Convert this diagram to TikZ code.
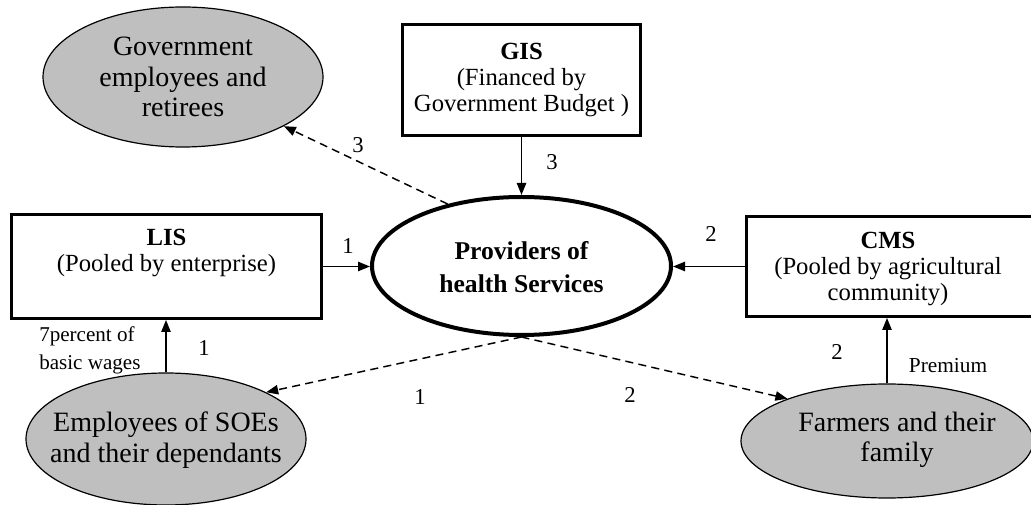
\documentclass[tikz,border=0pt]{standalone}
\usepackage{fontspec}
\setmainfont{Liberation Serif}
\usetikzlibrary{shapes.geometric,arrows.meta}
\begin{document}
\begin{tikzpicture}[x=0.75pt,y=-0.75pt,
  box/.style={draw, line width=2.2pt, inner sep=0pt},
  boxtxt/.style={align=center, inner sep=0pt, font=\fontsize{18.5}{19.8}\selectfont},
  grayell/.style={ellipse, draw, fill=black!25, line width=0.9pt, inner sep=0pt},
  elltxt/.style={align=center, inner sep=0pt, font=\fontsize{21}{22.8}\selectfont},
  provst/.style={ellipse, draw, line width=3pt, inner sep=0pt},
  provtxt/.style={align=center, inner sep=0pt, font=\fontsize{19.2}{24.5}\selectfont\bfseries},
  arr/.style={-{Triangle[length=9pt,width=7pt]}, line width=1.1pt},
  dasharr/.style={arr, dash pattern=on 6pt off 4pt},
  num/.style={inner sep=0pt, font=\fontsize{17}{19}\selectfont},
  small/.style={inner sep=0pt, align=left, font=\fontsize{15.8}{21}\selectfont}]
\clip (0,0) rectangle (1031,505);
% nodes
\node[grayell, minimum width=210pt, minimum height=105pt] (gov) at (183,77) {};
\node[elltxt] (govt) at (183,77) {Government\\employees and\\retirees};
\node[box, minimum width=178.5pt, minimum height=83.25pt] (gis) at (521.5,80) {};
\node[boxtxt] (gist) at (521.5,80) {\textbf{GIS}\\(Financed by\\Government Budget )};
\node[provst, minimum width=224.25pt, minimum height=103.5pt] (prov) at (521.5,266) {};
\node[provtxt] (provt) at (521.5,267) {Providers of\\health Services};
\node[box, minimum width=232.5pt, minimum height=78pt] (lis) at (166.5,266.5) {};
\node[boxtxt] (list) at (166.5,253) {\textbf{LIS}\\(Pooled by enterprise)};
\node[box, minimum width=219pt, minimum height=75pt] (cms) at (892.5,266.5) {};
\node[boxtxt] (cmst) at (888,269) {\textbf{CMS}\\(Pooled by agricultural\\community)};
\node[grayell, minimum width=210pt, minimum height=99pt] (soe) at (166,439) {};
\node[elltxt] (soet) at (166,440) {Employees of SOEs\\and their dependants};
\node[grayell, minimum width=219pt, minimum height=85.5pt] (farm) at (887,441) {};
\node[elltxt] (farmt) at (897,440) {Farmers and their\\family};
% connectors
\draw[arr] (gis.south) -- (prov.north);
\draw[arr] (lis.east) -- (lis.east -| prov.west);
\draw[arr] (cms.west) -- (cms.west -| prov.east);
\draw[arr] (soe.north) -- (soe.north |- lis.south);
\draw[arr] (farm.north) -- (farm.north |- cms.south);
\draw[dasharr] (prov.140) -- (gov.-26);
\draw[dasharr] (prov.south) -- (soe.25);
\draw[dasharr] (prov.south) -- (farm.157);
% labels
\node[num] (l1) at (358,145) {3};
\node[num] (l2) at (552,162) {3};
\node[num] (l3) at (348,246) {1};
\node[num] (l4) at (711,234) {2};
\node[num] (l5) at (204,348) {1};
\node[small, anchor=west] (l6) at (39,350) {7percent of\\basic wages};
\node[num, font=\fontsize{16}{18}\selectfont] (l10) at (948,366) {Premium};
\node[num] (l7) at (420,397) {1};
\node[num] (l8) at (630,395) {2};
\node[num] (l9) at (837,352) {2};
\end{tikzpicture}
\end{document}
